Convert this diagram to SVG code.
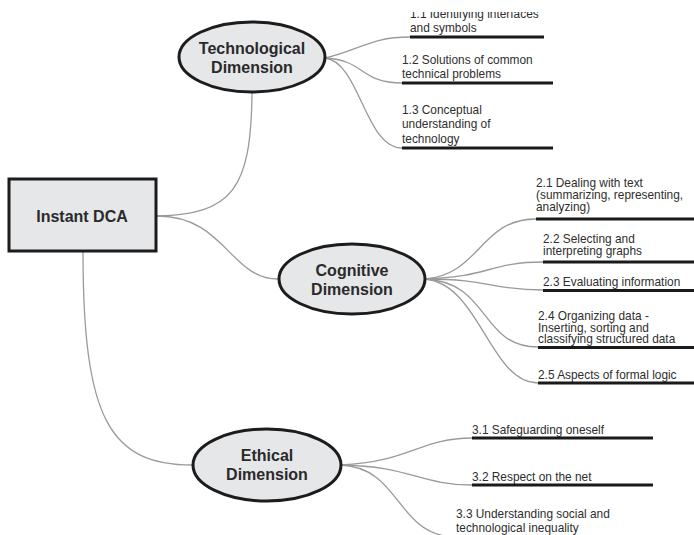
<svg xmlns="http://www.w3.org/2000/svg" width="694" height="535" viewBox="0 0 694 535">
<style>
.node{fill:#e6e7e9;stroke:#1c1c1c;stroke-width:3}
.title{font-family:"Liberation Sans",Arial,sans-serif;font-weight:bold;font-size:16px;fill:#2a2a2a;text-anchor:middle}
.lbl{font-family:"Liberation Sans",Arial,sans-serif;font-size:13.2px;fill:#2e2e2e}
.con{fill:none;stroke:#9a9a9a;stroke-width:1.3}
.ul{stroke:#1a1a1a;stroke-width:3}
</style>
<defs>
<clipPath id="clipTop"><rect x="-20" y="12" width="300" height="30"/></clipPath>
</defs>
<g id="connectors">
<path class="con" d="M157,216 C232,214 251,190 252,93"/>
<path class="con" d="M157,216 C225,216 230,279 278,279"/>
<path class="con" d="M83,251 C83,420 110,465 193,465"/>
<path class="con" d="M325,58 C360,50 370,37 410,37"/>
<path class="con" d="M325,58 C365,60 360,83 402,83"/>
<path class="con" d="M325,58 C360,62 365,148 402,148"/>
<path class="con" d="M425,279 C480,275 480,219 536,219"/>
<path class="con" d="M425,279 C490,277 490,262 543,262"/>
<path class="con" d="M425,279 C490,279 490,290 543,290"/>
<path class="con" d="M425,279 C490,282 480,347 538,347"/>
<path class="con" d="M425,279 C480,284 490,383 538,383"/>
<path class="con" d="M341,465 C410,462 420,438 472,438"/>
<path class="con" d="M341,465 C410,466 420,485 472,485"/>
<path class="con" d="M341,465 C400,468 395,530 450,537"/>
</g>
<g id="instant-dca">
<rect class="node" x="9" y="179" width="147" height="72"/>
<text class="title" x="82" y="222">Instant DCA</text>
</g>
<g id="technological">
<ellipse class="node" cx="252" cy="57" rx="73" ry="35"/>
<text class="title" x="252" y="54">Technological</text>
<text class="title" x="252" y="73">Dimension</text>
</g>
<g id="cognitive">
<ellipse class="node" cx="352" cy="279" rx="73" ry="35"/>
<text class="title" x="352" y="276">Cognitive</text>
<text class="title" x="352" y="295">Dimension</text>
</g>
<g id="ethical">
<ellipse class="node" cx="267" cy="465" rx="74" ry="36"/>
<text class="title" x="267" y="461">Ethical</text>
<text class="title" x="267" y="480">Dimension</text>
</g>
<g id="t11">
<g transform="translate(410,0) scale(0.9,1)">
<text class="lbl" x="0" y="18" clip-path="url(#clipTop)">1.1 Identifying interfaces</text>
<text class="lbl" x="0" y="32">and symbols</text>
</g>
<line class="ul" x1="410" y1="37" x2="544" y2="37"/>
</g>
<g id="t12">
<g transform="translate(402,0) scale(0.9,1)">
<text class="lbl" x="0" y="64">1.2 Solutions of common</text>
<text class="lbl" x="0" y="78">technical problems</text>
</g>
<line class="ul" x1="402" y1="83" x2="553" y2="83"/>
</g>
<g id="t13">
<g transform="translate(402,0) scale(0.9,1)">
<text class="lbl" x="0" y="114">1.3 Conceptual</text>
<text class="lbl" x="0" y="128.5">understanding of</text>
<text class="lbl" x="0" y="143">technology</text>
</g>
<line class="ul" x1="402" y1="148" x2="553" y2="148"/>
</g>
<g id="c21">
<g transform="translate(536,0) scale(0.9,1)">
<text class="lbl" x="0" y="187">2.1 Dealing with text</text>
<text class="lbl" x="0" y="199">(summarizing, representing,</text>
<text class="lbl" x="0" y="211">analyzing)</text>
</g>
<line class="ul" x1="536" y1="219" x2="694" y2="219"/>
</g>
<g id="c22">
<g transform="translate(543,0) scale(0.9,1)">
<text class="lbl" x="0" y="243">2.2 Selecting and</text>
<text class="lbl" x="0" y="255">interpreting graphs</text>
</g>
<line class="ul" x1="543" y1="262" x2="694" y2="262"/>
</g>
<g id="c23">
<g transform="translate(543,0) scale(0.9,1)">
<text class="lbl" x="0" y="286">2.3 Evaluating information</text>
</g>
<line class="ul" x1="543" y1="290.5" x2="694" y2="290.5"/>
</g>
<g id="c24">
<g transform="translate(538,0) scale(0.9,1)">
<text class="lbl" x="0" y="320">2.4 Organizing data -</text>
<text class="lbl" x="0" y="332">Inserting, sorting and</text>
<text class="lbl" x="0" y="343.5">classifying structured data</text>
</g>
<line class="ul" x1="538" y1="347.5" x2="694" y2="347.5"/>
</g>
<g id="c25">
<g transform="translate(538,0) scale(0.9,1)">
<text class="lbl" x="0" y="379">2.5 Aspects of formal logic</text>
</g>
<line class="ul" x1="538" y1="383" x2="694" y2="383"/>
</g>
<g id="e31">
<g transform="translate(472,0) scale(0.9,1)">
<text class="lbl" x="0" y="434">3.1 Safeguarding oneself</text>
</g>
<line class="ul" x1="472" y1="438" x2="653" y2="438"/>
</g>
<g id="e32">
<g transform="translate(472,0) scale(0.9,1)">
<text class="lbl" x="0" y="481">3.2 Respect on the net</text>
</g>
<line class="ul" x1="472" y1="485" x2="653" y2="485"/>
</g>
<g id="e33">
<g transform="translate(456,0) scale(0.9,1)">
<text class="lbl" x="0" y="518">3.3 Understanding social and</text>
<text class="lbl" x="0" y="532">technological inequality</text>
</g>
</g>
</svg>
